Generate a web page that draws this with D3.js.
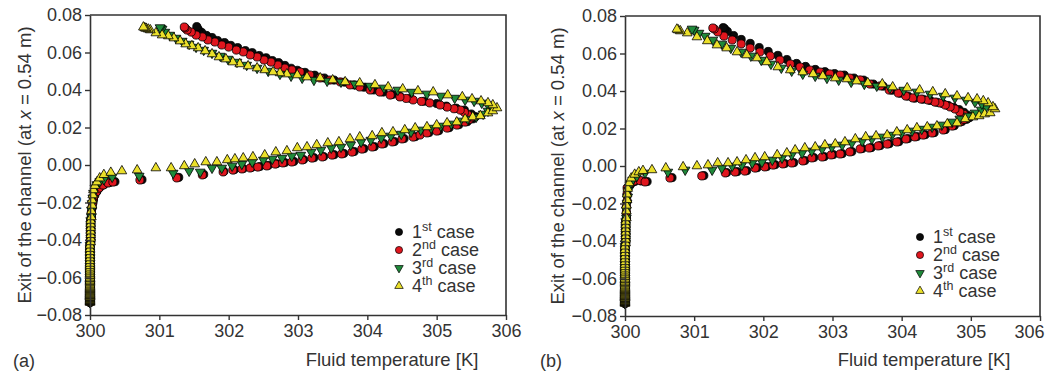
<!DOCTYPE html>
<html>
<head>
<meta charset="utf-8">
<script src="https://cdn.jsdelivr.net/npm/d3@7"></script>
<style>
  body { margin: 0; background: #fff; }
  svg { display: block; font-family: "Liberation Sans", Arial, sans-serif; }
</style>
</head>
<body>
<div id="chart"></div>
<script>
// ---- data: [fluid temperature K, position m] ----
// dense points along the inlet wall (all cases sit on T = 300 there)
const wallPts = [[300,-0.0733],[300,-0.0731],[300,-0.0729],[300,-0.0727],[300,-0.0725],[300,-0.0723],[300,-0.0720],[300,-0.0717],[300,-0.0714],[300,-0.0711],[300,-0.0708],[300,-0.0705],[300,-0.0701],[300,-0.0697],[300,-0.0693],[300,-0.0689],[300,-0.0685],[300,-0.0680],[300,-0.0675],[300,-0.0670],[300,-0.0665],[300,-0.0660],[300,-0.0654],[300,-0.0648],[300,-0.0642],[300,-0.0636],[300,-0.0629],[300,-0.0622],[300,-0.0615],[300,-0.0607],[300,-0.0599],[300,-0.0590],[300,-0.0581],[300,-0.0571],[300,-0.0561],[300,-0.0550],[300,-0.0538],[300,-0.0525],[300,-0.0511],[300,-0.0496],[300,-0.0480],[300,-0.0463],[300,-0.0446],[300,-0.0428],[300.01,-0.0410],[300.01,-0.0391],[300.01,-0.0372],[300.01,-0.0353],[300.01,-0.0334],[300.01,-0.0315],[300.01,-0.0296],[300.02,-0.0277]];

// panel (a)
const a1Pts = [[300.02,-0.0255],[300.03,-0.0230],[300.04,-0.0205],[300.05,-0.0185],[300.07,-0.0160],[300.10,-0.0140],[300.14,-0.0120],[300.20,-0.0105],[300.28,-0.0094],[300.36,-0.0089],[300.75,-0.0078],[301.28,-0.0066],[301.64,-0.0050],[301.93,-0.0034],[302.08,-0.0025],[302.21,-0.0019],[302.33,-0.0013],[302.45,-0.0008],[302.57,-0.0002],[302.69,0.0007],[302.81,0.0013],[302.94,0.0019],[303.08,0.0029],[303.23,0.0039],[303.37,0.0045],[303.52,0.0055],[303.66,0.0062],[303.81,0.0072],[303.95,0.0087],[304.10,0.0098],[304.24,0.0114],[304.39,0.0125],[304.53,0.0141],[304.69,0.0151],[304.89,0.0173],[305.03,0.0183],[305.18,0.0199],[305.32,0.0215],[305.44,0.0231],[305.52,0.0246],[305.56,0.0258],
  [305.50,0.0272],[305.40,0.0293],[305.28,0.0303],[305.14,0.0314],[305.00,0.0328],[304.82,0.0340],[304.62,0.0356],[304.47,0.0366],[304.36,0.0376],[304.23,0.0389],[304.09,0.0400],[303.95,0.0415],[303.81,0.0427],[303.67,0.0442],[303.52,0.0453],[303.38,0.0464],[303.24,0.0479],[303.10,0.0494],[302.99,0.0505],[302.90,0.0516],[302.81,0.0531],[302.72,0.0546],[302.63,0.0557],[302.54,0.0572],[302.44,0.0584],[302.34,0.0599],[302.24,0.0610],[302.13,0.0626],[302.03,0.0638],[301.94,0.0653],[301.84,0.0664],[301.76,0.0680],[301.68,0.0691],[301.61,0.0707],[301.57,0.0718],[301.55,0.0729],[301.54,0.0738]];
const a2Pts = [[300.02,-0.0250],[300.03,-0.0225],[300.04,-0.0200],[300.05,-0.0180],[300.06,-0.0165],[300.09,-0.0144],[300.13,-0.0123],[300.19,-0.0107],[300.26,-0.0096],[300.33,-0.0091],[300.72,-0.0080],[301.25,-0.0069],[301.62,-0.0053],[301.92,-0.0037],[302.06,-0.0027],[302.19,-0.0021],[302.31,-0.0016],[302.42,-0.0011],[302.55,-0.0005],[302.67,0.0005],[302.78,0.0011],[302.91,0.0016],[303.06,0.0027],[303.20,0.0037],[303.35,0.0043],[303.49,0.0053],[303.63,0.0059],[303.78,0.0069],[303.92,0.0085],[304.07,0.0096],[304.21,0.0112],[304.36,0.0123],[304.50,0.0139],[304.66,0.0149],[304.76,0.0160],[304.86,0.0171],[305.00,0.0181],[305.15,0.0197],[305.29,0.0213],[305.41,0.0229],[305.47,0.0243],[305.51,0.0256],
  [305.45,0.0267],[305.40,0.0281],[305.34,0.0293],[305.25,0.0300],[305.15,0.0309],[305.05,0.0320],[304.90,0.0331],[304.78,0.0339],[304.66,0.0347],[304.56,0.0355],[304.47,0.0363],[304.33,0.0373],[304.18,0.0389],[304.04,0.0400],[303.89,0.0416],[303.75,0.0427],[303.61,0.0443],[303.46,0.0453],[303.32,0.0464],[303.17,0.0480],[303.03,0.0496],[302.91,0.0507],[302.81,0.0517],[302.71,0.0533],[302.61,0.0549],[302.51,0.0560],[302.41,0.0576],[302.31,0.0587],[302.21,0.0603],[302.11,0.0613],[302.00,0.0629],[301.90,0.0640],[301.80,0.0656],[301.70,0.0667],[301.62,0.0683],[301.53,0.0693],[301.46,0.0709],[301.40,0.0720],[301.37,0.0731],[301.36,0.0736]];
const a3Pts = [[300.02,-0.0240],[300.03,-0.0205],[300.04,-0.0175],[300.05,-0.0150],[300.07,-0.0123],[300.10,-0.0104],[300.14,-0.0088],[300.20,-0.0077],[300.32,-0.0064],[300.71,-0.0059],[301.20,-0.0043],[301.43,-0.0032],[301.59,-0.0037],[301.76,-0.0016],[301.90,-0.0016],[302.05,-0.0005],[302.19,0.0005],[302.34,0.0016],[302.50,0.0027],[302.63,0.0032],[302.77,0.0037],[302.91,0.0048],[303.04,0.0053],[303.19,0.0069],[303.33,0.0080],[303.48,0.0091],[303.62,0.0096],[303.76,0.0107],[303.91,0.0123],[304.05,0.0133],[304.20,0.0144],[304.34,0.0155],[304.49,0.0165],[304.63,0.0176],[304.77,0.0187],[304.92,0.0197],[305.06,0.0208],[305.21,0.0219],[305.34,0.0235],[305.45,0.0245],[305.57,0.0256],[305.67,0.0272],[305.74,0.0288],[305.80,0.0304],
  [305.74,0.0320],[305.65,0.0331],[305.54,0.0341],[305.41,0.0347],[305.26,0.0357],[305.06,0.0368],[304.86,0.0379],[304.64,0.0389],[304.44,0.0400],[304.24,0.0411],[304.04,0.0421],[303.82,0.0432],[303.62,0.0443],[303.42,0.0448],[303.23,0.0453],[303.06,0.0464],[302.90,0.0475],[302.74,0.0485],[302.57,0.0501],[302.41,0.0517],[302.26,0.0533],[302.12,0.0549],[301.99,0.0565],[301.88,0.0581],[301.76,0.0597],[301.64,0.0613],[301.53,0.0629],[301.43,0.0645],[301.33,0.0661],[301.24,0.0677],[301.15,0.0693],[301.08,0.0709],[301.04,0.0725],[301.02,0.0729],[301.01,0.0733]];
const a4Pts = [[300.02,-0.0245],[300.03,-0.0215],[300.03,-0.0187],[300.04,-0.0160],[300.05,-0.0133],[300.07,-0.0110],[300.10,-0.0091],[300.14,-0.0070],[300.20,-0.0052],[300.30,-0.0040],[300.46,-0.0032],[300.68,-0.0027],[300.95,-0.0016],[301.17,-0.0016],[301.36,-0.0005],[301.51,0.0005],[301.67,0.0016],[301.83,0.0016],[301.98,0.0027],[302.09,0.0032],[302.21,0.0037],[302.35,0.0043],[302.52,0.0053],[302.68,0.0069],[302.84,0.0075],[302.99,0.0091],[303.13,0.0096],[303.27,0.0107],[303.43,0.0117],[303.59,0.0123],[303.75,0.0139],[303.89,0.0149],[304.07,0.0155],[304.21,0.0171],[304.37,0.0176],[304.54,0.0187],[304.69,0.0197],[304.86,0.0203],[305.00,0.0213],[305.15,0.0224],[305.29,0.0229],[305.41,0.0245],[305.52,0.0256],[305.63,0.0262],[305.74,0.0277],[305.81,0.0288],[305.87,0.0304],
  [305.81,0.0320],[305.74,0.0331],[305.64,0.0341],[305.51,0.0352],[305.37,0.0363],[305.16,0.0373],[304.95,0.0389],[304.73,0.0395],[304.51,0.0405],[304.30,0.0416],[304.11,0.0427],[303.89,0.0437],[303.68,0.0443],[303.50,0.0453],[303.32,0.0464],[303.13,0.0469],[302.99,0.0480],[302.84,0.0485],[302.74,0.0491],[302.64,0.0496],[302.52,0.0507],[302.41,0.0517],[302.28,0.0528],[302.16,0.0539],[302.06,0.0549],[301.96,0.0565],[301.86,0.0576],[301.76,0.0592],[301.66,0.0608],[301.56,0.0624],[301.47,0.0635],[301.38,0.0645],[301.30,0.0661],[301.21,0.0677],[301.13,0.0688],[301.04,0.0693],[300.95,0.0704],[300.87,0.0720],[300.84,0.0724],[300.81,0.0728],[300.79,0.0731],[300.77,0.0735]];

// panel (b)
const b1Pts = [[300.02,-0.0250],[300.02,-0.0220],[300.03,-0.0190],[300.03,-0.0155],[300.04,-0.0120],[300.08,-0.0098],[300.14,-0.0083],[300.24,-0.0080],[300.32,-0.0083],[300.68,-0.0062],[301.14,-0.0051],[301.47,-0.0035],[301.62,-0.0030],[301.76,-0.0025],[301.91,-0.0009],[302.05,-0.0003],[302.17,0.0007],[302.31,0.0013],[302.44,0.0018],[302.60,0.0029],[302.73,0.0045],[302.88,0.0050],[303.01,0.0061],[303.14,0.0066],[303.28,0.0077],[303.43,0.0093],[303.56,0.0098],[303.69,0.0109],[303.82,0.0119],[303.96,0.0130],[304.09,0.0146],[304.22,0.0157],[304.34,0.0167],[304.47,0.0178],[304.63,0.0194],[304.76,0.0215],[304.87,0.0237],[304.94,0.0249],[304.98,0.0258],
  [304.95,0.0272],[304.90,0.0286],[304.83,0.0301],[304.75,0.0313],[304.67,0.0323],[304.59,0.0334],[304.51,0.0340],[304.41,0.0350],[304.31,0.0356],[304.19,0.0362],[304.09,0.0373],[303.98,0.0388],[303.86,0.0404],[303.73,0.0426],[303.59,0.0437],[303.45,0.0458],[303.31,0.0469],[303.17,0.0485],[303.03,0.0493],[302.89,0.0503],[302.75,0.0515],[302.61,0.0531],[302.48,0.0547],[302.34,0.0568],[302.21,0.0590],[302.07,0.0611],[301.94,0.0632],[301.81,0.0654],[301.68,0.0675],[301.57,0.0696],[301.48,0.0718],[301.44,0.0732],[301.42,0.0738]];
const b2Pts = [[300.02,-0.0245],[300.02,-0.0215],[300.03,-0.0185],[300.03,-0.0150],[300.03,-0.0117],[300.07,-0.0096],[300.13,-0.0080],[300.22,-0.0078],[300.29,-0.0085],[300.65,-0.0064],[301.11,-0.0053],[301.45,-0.0037],[301.59,-0.0032],[301.73,-0.0027],[301.88,-0.0011],[302.02,-0.0005],[302.14,0.0005],[302.28,0.0011],[302.41,0.0016],[302.57,0.0027],[302.70,0.0043],[302.85,0.0048],[302.98,0.0059],[303.11,0.0064],[303.25,0.0075],[303.40,0.0091],[303.53,0.0096],[303.66,0.0107],[303.79,0.0117],[303.93,0.0128],[304.06,0.0144],[304.19,0.0155],[304.31,0.0165],[304.44,0.0176],[304.60,0.0192],[304.73,0.0213],[304.84,0.0235],[304.90,0.0248],[304.94,0.0261],
  [304.90,0.0275],[304.84,0.0288],[304.77,0.0304],[304.70,0.0315],[304.63,0.0325],[304.55,0.0336],[304.48,0.0341],[304.38,0.0352],[304.28,0.0357],[304.16,0.0363],[304.06,0.0373],[303.95,0.0389],[303.82,0.0405],[303.69,0.0427],[303.54,0.0437],[303.40,0.0459],[303.25,0.0469],[303.11,0.0485],[302.96,0.0491],[302.82,0.0501],[302.67,0.0512],[302.53,0.0528],[302.39,0.0544],[302.24,0.0565],[302.10,0.0587],[301.95,0.0608],[301.81,0.0629],[301.68,0.0651],[301.55,0.0672],[301.43,0.0693],[301.34,0.0715],[301.29,0.0731],[301.27,0.0736]];
const b3Pts = [[300.02,-0.0235],[300.03,-0.0200],[300.04,-0.0165],[300.05,-0.0130],[300.07,-0.0100],[300.11,-0.0075],[300.17,-0.0055],[300.29,-0.0037],[300.62,-0.0032],[300.87,-0.0021],[301.26,-0.0021],[301.40,-0.0011],[301.55,0.0000],[301.69,0.0005],[301.84,0.0016],[301.98,0.0021],[302.13,0.0032],[302.27,0.0043],[302.41,0.0059],[302.56,0.0069],[302.70,0.0080],[302.85,0.0091],[302.99,0.0101],[303.14,0.0112],[303.28,0.0123],[303.43,0.0133],[303.57,0.0144],[303.72,0.0155],[303.86,0.0165],[304.00,0.0176],[304.15,0.0187],[304.29,0.0197],[304.44,0.0208],[304.58,0.0219],[304.73,0.0235],[304.84,0.0251],[304.96,0.0267],[305.06,0.0283],[305.15,0.0299],[305.22,0.0315],
  [305.16,0.0331],[305.06,0.0341],[304.93,0.0352],[304.77,0.0363],[304.60,0.0373],[304.41,0.0384],[304.22,0.0395],[304.03,0.0405],[303.83,0.0416],[303.64,0.0427],[303.46,0.0437],[303.27,0.0448],[303.09,0.0459],[302.92,0.0469],[302.75,0.0480],[302.57,0.0491],[302.41,0.0507],[302.26,0.0523],[302.11,0.0544],[301.97,0.0565],[301.82,0.0587],[301.68,0.0608],[301.53,0.0629],[301.40,0.0651],[301.27,0.0672],[301.16,0.0693],[301.07,0.0709],[301.00,0.0725],[300.97,0.0731]];
const b4Pts = [[300.02,-0.0240],[300.02,-0.0210],[300.03,-0.0180],[300.03,-0.0150],[300.04,-0.0120],[300.06,-0.0090],[300.09,-0.0065],[300.14,-0.0045],[300.20,-0.0032],[300.26,-0.0025],[300.39,-0.0021],[300.59,-0.0011],[300.84,-0.0005],[301.04,0.0000],[301.20,0.0005],[301.34,0.0016],[301.49,0.0016],[301.62,0.0021],[301.75,0.0032],[301.88,0.0043],[302.02,0.0048],[302.20,0.0059],[302.34,0.0069],[302.46,0.0085],[302.60,0.0096],[302.75,0.0101],[302.89,0.0112],[303.04,0.0117],[303.18,0.0128],[303.33,0.0144],[303.48,0.0155],[303.63,0.0160],[303.79,0.0165],[303.93,0.0181],[304.08,0.0192],[304.22,0.0203],[304.37,0.0208],[304.51,0.0213],[304.66,0.0224],[304.80,0.0229],[304.92,0.0251],[305.03,0.0261],[305.12,0.0267],[305.20,0.0277],[305.28,0.0283],[305.35,0.0304],
  [305.32,0.0315],[305.25,0.0336],[305.18,0.0347],[305.09,0.0357],[304.96,0.0363],[304.80,0.0373],[304.63,0.0384],[304.45,0.0395],[304.26,0.0405],[304.08,0.0416],[303.87,0.0421],[303.72,0.0437],[303.51,0.0443],[303.35,0.0453],[303.21,0.0464],[303.04,0.0469],[302.86,0.0480],[302.72,0.0491],[302.57,0.0501],[302.39,0.0512],[302.21,0.0528],[302.05,0.0555],[301.91,0.0576],[301.76,0.0592],[301.62,0.0608],[301.47,0.0629],[301.33,0.0645],[301.19,0.0667],[301.04,0.0688],[300.90,0.0709],[300.80,0.0720],[300.77,0.0725],[300.75,0.0729]];

const xTicks = [300, 301, 302, 303, 304, 305, 306];
const yTicks = [-0.08, -0.06, -0.04, -0.02, 0.00, 0.02, 0.04, 0.06, 0.08];
const caseNums = ["1", "2", "3", "4"];
const caseSups = ["st", "nd", "rd", "th"];
const caseColors = ["#0a0a0a", "#e0161e", "#1f8a3a", "#ebe02a"];
const caseShapes = ["circle", "circle", "down", "up"];

const W = 1048, H = 376;
const svg = d3.select("#chart").append("svg").attr("width", W).attr("height", H);

const panels = [
  { left: 90, right: 506, top: 15, bottom: 315, tag: "(a)", tagX: 13, ylabX: 31, xlabX: 392, legX: 399, legY: 232, lastDx: 0, series: [a1Pts, a2Pts, a3Pts, a4Pts] },
  { left: 625, right: 1040, top: 16, bottom: 316, tag: "(b)", tagX: 540, ylabX: 564, xlabX: 924, legX: 920, legY: 237, lastDx: -11, series: [b1Pts, b2Pts, b3Pts, b4Pts] }
];

function markerPath(shape, size) {
  if (shape === "circle") return d3.symbol(d3.symbolCircle, size)();
  return d3.symbol(d3.symbolTriangle, size * 0.78)();
}

function drawPanel(p) {
  const g = svg.append("g");
  const x = d3.scaleLinear().domain([300, 306]).range([p.left, p.right]);
  const y = d3.scaleLinear().domain([-0.08, 0.08]).range([p.bottom, p.top]);

  // markers (first case drawn first, 4th on top)
  p.series.forEach(function(pts, i) {
    const data = wallPts.concat(pts);
    g.append("g").selectAll("path")
      .data(data)
      .join("path")
      .attr("d", markerPath(caseShapes[i], 52))
      .attr("transform", function(d) {
        return "translate(" + x(d[0]) + "," + y(d[1]) + ")" + (caseShapes[i] === "down" ? " rotate(180)" : "");
      })
      .attr("fill", caseColors[i])
      .attr("stroke", "#000")
      .attr("stroke-width", 0.8);
  });

  // frame top + right
  g.append("path")
    .attr("d", "M" + p.left + "," + p.top + "H" + p.right + "V" + p.bottom)
    .attr("fill", "none").attr("stroke", "#333").attr("stroke-width", 1.6);

  const ax = g.append("g")
    .attr("transform", "translate(0," + p.bottom + ")")
    .call(d3.axisBottom(x).tickValues(xTicks).tickSize(5).tickSizeOuter(0).tickPadding(4).tickFormat(d3.format("d")));
  const ay = g.append("g")
    .attr("transform", "translate(" + p.left + ",0)")
    .call(d3.axisLeft(y).tickValues(yTicks).tickSize(5).tickSizeOuter(0).tickPadding(3).tickFormat(d3.format(".2f")));
  [ax, ay].forEach(function(a) {
    a.select(".domain").attr("stroke", "#333").attr("stroke-width", 1.6);
    a.selectAll(".tick line").attr("stroke", "#333").attr("stroke-width", 1.4);
    a.selectAll(".tick text").attr("fill", "#333").style("font-size", "18px").style("font-family", "'Liberation Sans', Arial, sans-serif");
  });
  // last x label sits a little inside the page edge
  ax.selectAll(".tick text").filter(function(d) { return d === 306; }).attr("dx", p.lastDx);

  // axis titles
  const yl = g.append("text")
    .attr("transform", "translate(" + p.ylabX + "," + ((p.top + p.bottom) / 2) + ") rotate(-90)")
    .attr("text-anchor", "middle").attr("fill", "#333").style("font-size", "18.5px");
  yl.append("tspan").text("Exit of the channel (at ");
  yl.append("tspan").attr("font-style", "italic").text("x");
  yl.append("tspan").text(" = 0.54 m)");

  g.append("text").attr("x", p.xlabX).attr("y", 366).attr("text-anchor", "middle")
    .attr("fill", "#333").style("font-size", "18.5px").text("Fluid temperature [K]");

  g.append("text").attr("x", p.tagX).attr("y", 367).attr("fill", "#333")
    .style("font-size", "18px").text(p.tag);

  // legend
  const leg = g.append("g").selectAll("g").data(caseNums).join("g")
    .attr("transform", function(d, i) { return "translate(" + p.legX + "," + (p.legY + i * 18) + ")"; });
  leg.append("path")
    .attr("d", function(d, i) { return markerPath(caseShapes[i], 40); })
    .attr("transform", function(d, i) { return caseShapes[i] === "down" ? "rotate(180)" : null; })
    .attr("fill", function(d, i) { return caseColors[i]; })
    .attr("stroke", "#000").attr("stroke-width", 0.7);
  const lt = leg.append("text").attr("x", 13).attr("y", 6).attr("fill", "#333").style("font-size", "18px");
  lt.append("tspan").text(function(d) { return d; });
  lt.append("tspan").attr("dy", -7).style("font-size", "12.5px").text(function(d, i) { return caseSups[i]; });
  lt.append("tspan").attr("dy", 7).text(" case");
}

panels.forEach(drawPanel);
</script>
</body>
</html>
